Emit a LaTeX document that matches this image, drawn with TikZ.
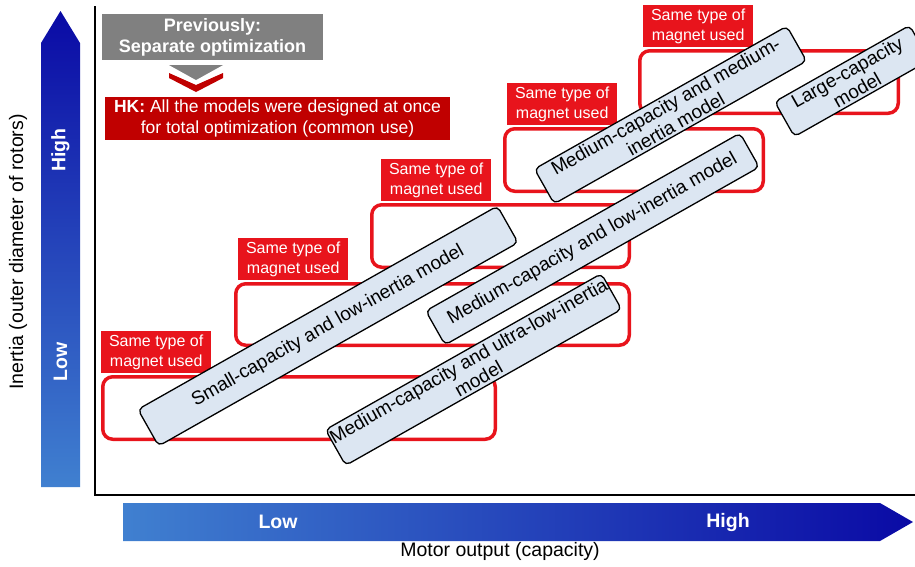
\documentclass[tikz,border=0pt]{standalone}
\usepackage{fontspec}
\setmainfont{Liberation Sans}
\usepackage{tikz}

\definecolor{framered}{RGB}{232,20,28}
\definecolor{hkred}{RGB}{192,0,0}
\definecolor{prevgray}{RGB}{128,128,128}
\definecolor{modelblue}{RGB}{220,230,242}
\definecolor{arrowdark}{RGB}{10,10,165}
\definecolor{arrowmid}{RGB}{66,66,255}
\definecolor{arrowlight}{RGB}{64,128,208}

\begin{document}
\begin{tikzpicture}[x=1pt,y=-1pt,
  %%Configuración
  groupframe/.style={draw=framered, line width=3.5pt, rounded corners=10pt, inner sep=0pt},
  magnetlabel/.style={fill=framered, text=white, font=\fontsize{16}{20}\selectfont,
    align=center, minimum width=110pt, minimum height=42pt, inner sep=0pt, anchor=south west},
  modelbox/.style={draw=black, line width=1.3pt, fill=modelblue, rounded corners=5pt,
    font=\fontsize{19}{20.5}\selectfont, align=center, inner sep=0pt, minimum height=40pt, rotate=29.5},
  prevbox/.style={fill=prevgray, text=white, font=\bfseries\fontsize{18}{21}\selectfont,
    align=center, inner sep=0pt, minimum width=221pt, minimum height=46pt},
  hkbox/.style={fill=hkred, text=white, font=\fontsize{17.5}{21}\selectfont,
    align=center, inner sep=0pt, minimum width=345pt, minimum height=43pt},
  axislabel/.style={font=\fontsize{19.5}{22}\selectfont},
  scalelabel/.style={text=white, font=\bfseries\fontsize{19.5}{22}\selectfont}
]
\useasboundingbox (0,0) rectangle (915,566);

%%Arrows
\shade[top color=arrowdark, middle color=arrowmid, bottom color=arrowlight]
  (41,487) -- (41,43) -- (60.5,11) -- (80,43) -- (80,487) -- cycle;
\shade[left color=arrowlight, middle color=arrowmid, right color=arrowdark]
  (123,503) -- (880,503) -- (913,522) -- (880,541) -- (123,541) -- cycle;
\node[scalelabel, rotate=90] (vhigh) at (60.5,150) {High};
\node[scalelabel, rotate=90] (vlow) at (60.5,362) {Low};
\node[scalelabel] (hlow) at (278,522) {Low};
\node[scalelabel] (hhigh) at (728,522) {High};
\node[axislabel, rotate=90] (ylabel) at (18,252) {Inertia (outer diameter of rotors)};
\node[axislabel] (xlabel) at (500,551) {Motor output (capacity)};

%%Axes
\coordinate (ytop) at (95,6);
\coordinate (origin) at (95,495);
\coordinate (xend) at (915,495);
\draw[line width=2.5pt] (ytop) -- (origin) -- (xend);

%%Frames
\node[groupframe, minimum width=392.5pt, minimum height=62.5pt] (frame1) at (299,408) {};
\node[groupframe, minimum width=393.5pt, minimum height=61.5pt] (frame2) at (432.5,314.5) {};
\node[groupframe, minimum width=257.5pt, minimum height=62.5pt] (frame3) at (500.5,236) {};
\node[groupframe, minimum width=258.5pt, minimum height=62.5pt] (frame4) at (634,160) {};
\node[groupframe, minimum width=258.5pt, minimum height=62.5pt] (frame5) at (769,82) {};

\node[magnetlabel] (label1) at ([yshift=1.5pt]frame1.north west) {Same type of\\magnet used};
\node[magnetlabel] (label2) at ([xshift=4pt,yshift=1.5pt]frame2.north west) {Same type of\\magnet used};
\node[magnetlabel] (label3) at ([xshift=11pt,yshift=1.5pt]frame3.north west) {Same type of\\magnet used};
\node[magnetlabel] (label4) at ([xshift=4pt,yshift=1.5pt]frame4.north west) {Same type of\\magnet used};
\node[magnetlabel] (label5) at ([xshift=5pt,yshift=1.5pt]frame5.north west) {Same type of\\magnet used};

%%Previously / HK
\node[prevbox] (prev) at (212.5,37) {Previously:\\Separate optimization};
\fill[prevgray] (169,65) -- (223,65) -- (196,80) -- cycle;
\fill[hkred] (169,73) -- (196,85) -- (223,73) -- (223,78) -- (196,92) -- (169,78) -- cycle;
\node[hkbox] (hk) at (277.5,118.5) {\textbf{HK:} All the models were designed at once\\for total optimization (common use)};

%%Models
\node[modelbox, minimum width=413pt, minimum height=42pt] (small) at (328,326)
  {Small-capacity and low-inertia model};
\node[modelbox, minimum width=317pt, minimum height=41pt] (ultralow) at (473.5,369.5)
  {Medium-capacity and ultra-low-inertia\\model};
\node[modelbox, minimum width=361pt, minimum height=39pt] (lowinertia) at (592.5,239)
  {Medium-capacity and low-inertia model};
\node[modelbox, minimum width=290pt] (mediuminertia) at (670.5,115)
  {Medium-capacity and medium-\\inertia model};
\node[modelbox, minimum width=155pt] (large) at (852,81)
  {Large-capacity\\model};
\end{tikzpicture}
\end{document}
